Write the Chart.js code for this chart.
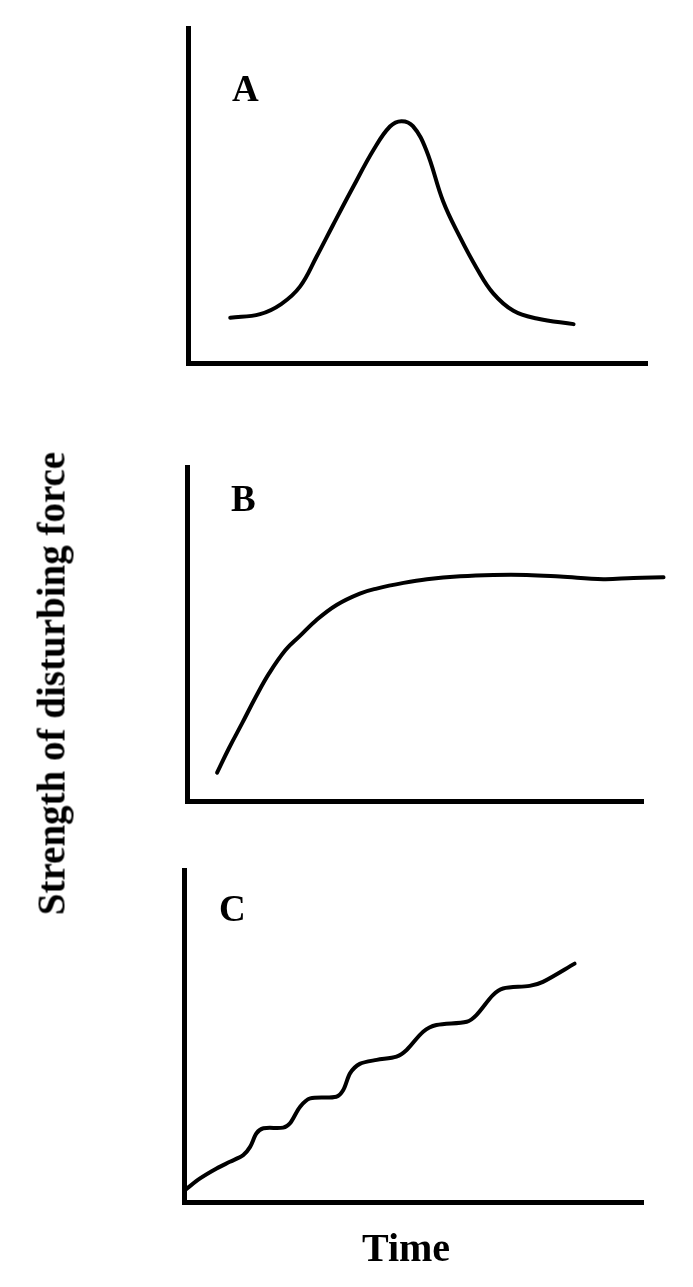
<!DOCTYPE html>
<html>
<head>
<meta charset="utf-8">
<script src="https://cdn.jsdelivr.net/npm/chart.js@4.4.0/dist/chart.umd.min.js"></script>
<style>
    body { margin: 0; background: #fff; }
    #page { position: relative; width: 693px; height: 1287px; overflow: hidden; background: #fff; }
    canvas { position: absolute; left: 0; }
    .txt { position: absolute; font-family: 'Liberation Serif', 'Times New Roman', serif; font-weight: bold; color: #000; white-space: nowrap; }
    .panel-letter { font-size: 37px; line-height: 37px; }
    #y-label { font-size: 39px; line-height: 39px; width: 500px; height: 39px; left: -199px; top: 664px; text-align: center; transform: rotate(-90deg); }
    #x-label { font-size: 40px; line-height: 40px; width: 200px; left: 306px; top: 1228px; text-align: center; }
</style>
</head>
<body>
<div id="page">
    <canvas id="chartA" width="693" height="400" style="top:0px"></canvas>
    <canvas id="chartB" width="693" height="400" style="top:430px"></canvas>
    <canvas id="chartC" width="693" height="400" style="top:840px"></canvas>
    <div class="txt panel-letter" style="left:232px; top:70px">A</div>
    <div class="txt panel-letter" style="left:231px; top:480px">B</div>
    <div class="txt panel-letter" style="left:219px; top:890px">C</div>
    <div class="txt" id="y-label">Strength of disturbing force</div>
    <div class="txt" id="x-label">Time</div>
</div>
<script>
// Data (time 0-100, strength 0-100)

// A: pulse
const timeA = [9.2, 15.7, 20.3, 24.4, 28.0, 31.6, 36.0, 40.4, 44.0, 46.5, 49.0, 51.9, 55.6, 59.2, 62.9, 66.5, 70.9, 76.0, 84.0];
const forceA = [13.5, 14.6, 17.6, 22.8, 31.7, 41.2, 52.6, 63.6, 70.6, 72.2, 70.7, 63.6, 48.2, 37.7, 28.3, 20.8, 15.6, 13.3, 11.6];

// B: rise to a plateau (runs past the end of the axis)
const timeB = [6.6, 9.2, 12.1, 15.1, 18.0, 21.6, 24.6, 28.4, 32.8, 37.9, 41.6, 47.5, 52.6, 59.9, 67.2, 74.5, 81.8, 91.3, 97.9, 104.5];
const forceB = [8.5, 15.8, 23.3, 31.2, 38.2, 45.2, 49.2, 54.2, 58.7, 62.1, 63.6, 65.3, 66.4, 67.3, 67.7, 67.7, 67.2, 66.4, 66.8, 67.0];

// C: stepwise increase
const timeC = [0.2, 3.5, 7.1, 10.0, 12.9, 14.4, 15.8, 17.3, 21.6, 23.1, 25.3, 27.5, 33.2, 34.7, 36.2, 38.3, 42.0, 46.3, 48.5, 52.1, 55.0, 61.6, 63.7, 67.3, 69.5, 75.3, 78.2, 85.1];
const forceC = [3.6, 7.1, 10.1, 12.1, 14.1, 16.6, 20.7, 22.2, 22.4, 23.7, 28.7, 31.2, 31.7, 33.7, 38.8, 41.6, 42.8, 43.8, 45.8, 51.3, 53.3, 54.3, 56.3, 62.3, 64.3, 65.1, 66.3, 71.8];

// --- Chart helpers ---

function axisOptions(isX) {
    return {
        type: 'linear',
        min: 0,
        max: 100,
        ticks: { display: false },
        grid: { display: false },
        border: { display: true, width: 5, color: '#000' },
        afterFit: (scale) => {
            if (isX) scale.height = 0; else scale.width = 0;
        }
    };
}

function drawPanel(id, times, forces, padding, tension) {
    const ctx = document.getElementById(id).getContext('2d');
    const points = times.map((t, i) => ({ x: t, y: forces[i] }));

    return new Chart(ctx, {
        type: 'line',
        data: {
            datasets: [{
                data: points,
                borderColor: '#000',
                borderWidth: 4,
                pointRadius: 0,
                fill: false,
                tension: tension,
                borderCapStyle: 'round',
                borderJoinStyle: 'round',
                clip: false
            }]
        },
        options: {
            responsive: false,
            animation: false,
            layout: { padding },
            plugins: { legend: { display: false }, tooltip: { enabled: false } },
            scales: { x: axisOptions(true), y: axisOptions(false) }
        }
    });
}

drawPanel('chartA', timeA, forceA, { left: 188, right: 46, top: 28, bottom: 37 }, 0.4);
drawPanel('chartB', timeB, forceB, { left: 187, right: 50, top: 37, bottom: 29 }, 0.4);
drawPanel('chartC', timeC, forceC, { left: 184, right: 50, top: 30, bottom: 38 }, 0.3);
</script>
</body>
</html>
